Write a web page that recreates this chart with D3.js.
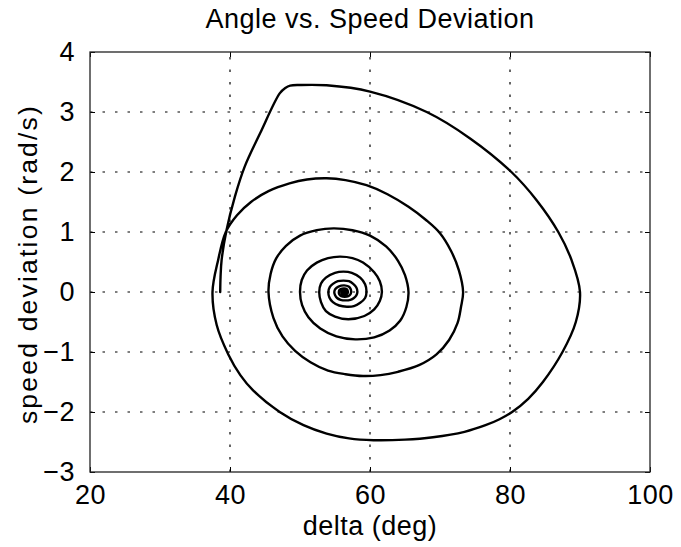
<!DOCTYPE html>
<html>
<head>
<meta charset="utf-8">
<script src="https://cdn.jsdelivr.net/npm/d3@7"></script>
<style>
  html, body { margin: 0; padding: 0; background: #fff; }
  svg { display: block; }
  text { font-family: "Liberation Sans", Arial, Helvetica, sans-serif; fill: #000; }
</style>
</head>
<body>
<svg id="chart" width="681" height="547"></svg>
<script>
// Rotor angle (deg) and speed deviation (rad/s) along the trajectory,
// from the fault instant through the damped swings to the new operating point.
const deltaDeg = [
  // fault-on acceleration
  38.6, 38.65, 38.8, 39.5, 40.7, 42.1, 44.3, 47.1, 47.9, 48.6,
  // first swing, upper half
  50.0, 53.8, 60.0, 68.1, 74.3, 80.2, 83.8, 86.9, 88.8, 90.0,
  // first swing, lower half
  89.4, 87.5, 84.7, 82.6, 80.3, 78.5, 76.5, 73.5, 69.0, 65.0, 60.5, 57.0, 53.8, 50.5, 47.1, 43.3, 41.5, 39.76, 38.1, 37.5,
  // second swing
  38.3, 39.4, 41.0, 43.0, 45.5, 48.5, 51.0, 53.8, 56.5, 59.5, 62.5, 65.5, 68.0, 70.0, 71.6, 72.7, 73.3,
  73.0, 72.5, 71.3, 69.5, 67.0, 64.0, 61.5, 59.0, 56.5, 54.0, 51.5, 49.3, 47.5, 46.2, 45.5,
  // third swing
  45.8, 46.6, 48.0, 50.0, 52.4, 54.8, 57.5, 60.0, 62.3, 64.0, 65.0, 65.5,
  65.2, 64.3, 62.8, 60.6, 57.9, 55.2, 52.9, 51.2, 50.3, 50.0,
  // fourth swing
  50.25, 51.0, 52.4, 54.0, 55.7, 57.5, 59.0, 60.6, 61.4, 61.7,
  61.4, 60.6, 59.2, 56.9, 55.0, 53.7, 53.0, 52.75,
  // fifth swing
  53.0, 53.7, 55.0, 56.2, 57.4, 58.6, 59.3, 59.5,
  59.3, 58.6, 57.7, 56.7, 55.6, 54.7, 54.2, 54.05,
  // settling
  54.25, 54.7, 55.4, 56.2, 57.0, 57.6, 58.05, 58.2,
  58.05, 57.7, 57.2, 56.5, 55.8, 55.3, 55.0, 54.9,
  55.05, 55.5, 56.3, 56.95, 57.25, 57.3,
  57.2, 56.9, 56.4, 55.9, 55.6, 55.55,
  55.65, 56.0, 56.3, 56.65, 56.85,
  56.7, 56.35, 56.0, 55.9,
  56.0, 56.3, 56.55, 56.6,
  56.5, 56.3, 56.1, 56.1, 56.3, 56.35
];
const speedDev = [
  0.0, 0.25, 0.53, 1.03, 1.59, 2.09, 2.645, 3.31, 3.40, 3.44,
  3.45, 3.445, 3.34, 3.0, 2.56, 2.0, 1.53, 1.0, 0.53, 0.0,
  -0.5, -1.0, -1.5, -1.78, -2.0, -2.12, -2.22, -2.33, -2.42, -2.46, -2.47, -2.44, -2.36, -2.22, -2.0, -1.64, -1.39, -1.04, -0.55, 0.0,
  0.53, 1.0, 1.28, 1.50, 1.68, 1.81, 1.875, 1.895, 1.865, 1.78, 1.63, 1.42, 1.20, 0.98, 0.68, 0.36, 0.0,
  -0.25, -0.52, -0.80, -1.04, -1.22, -1.33, -1.385, -1.40, -1.37, -1.31, -1.17, -0.98, -0.74, -0.43, 0.0,
  0.30, 0.56, 0.77, 0.94, 1.03, 1.06, 1.03, 0.94, 0.76, 0.52, 0.28, 0.0,
  -0.25, -0.48, -0.64, -0.755, -0.79, -0.74, -0.61, -0.42, -0.22, 0.0,
  0.20, 0.36, 0.49, 0.565, 0.59, 0.565, 0.49, 0.33, 0.18, 0.0,
  -0.15, -0.29, -0.40, -0.455, -0.41, -0.32, -0.17, 0.0,
  0.14, 0.24, 0.32, 0.34, 0.32, 0.24, 0.13, 0.0,
  -0.10, -0.18, -0.235, -0.245, -0.225, -0.17, -0.09, 0.0,
  0.08, 0.135, 0.18, 0.19, 0.18, 0.135, 0.075, 0.0,
  -0.055, -0.10, -0.13, -0.14, -0.13, -0.10, -0.05, 0.0,
  0.05, 0.09, 0.11, 0.09, 0.045, 0.0,
  -0.04, -0.07, -0.08, -0.07, -0.035, 0.0,
  0.035, 0.055, 0.06, 0.05, 0.0,
  -0.035, -0.045, -0.03, 0.0,
  0.025, 0.035, 0.02, 0.0,
  -0.02, -0.025, -0.01, 0.005, 0.01, 0.0
];

const xTicks = [20, 40, 60, 80, 100];
const yTicks = [-3, -2, -1, 0, 1, 2, 3, 4];
const xDomain = [20, 100];
const yDomain = [-3, 4];

const titleText = "Angle vs. Speed Deviation";
const xLabelText = "delta (deg)";
const yLabelText = "speed deviation (rad/s)";

// Plot frame
const plot = { left: 90, right: 650, top: 52, bottom: 472 };
const fontSize = 27;
const letterSpacing = 0.5;
const tickLen = 5;

const svg = d3.select("#chart");

const x = d3.scaleLinear().domain(xDomain).range([plot.left, plot.right]);
const y = d3.scaleLinear().domain(yDomain).range([plot.bottom, plot.top]);

// Dotted grid
const grid = svg.append("g")
  .attr("stroke", "#000")
  .attr("stroke-width", 1.2)
  .attr("stroke-dasharray", "2.5,10")
  .attr("fill", "none");

grid.selectAll("line.vgrid")
  .data(xTicks.filter(t => t > xDomain[0] && t < xDomain[1]))
  .join("line")
  .attr("class", "vgrid")
  .attr("x1", d => x(d)).attr("x2", d => x(d))
  .attr("y1", plot.bottom).attr("y2", plot.top);

grid.selectAll("line.hgrid")
  .data(yTicks.filter(t => t > yDomain[0] && t < yDomain[1]))
  .join("line")
  .attr("class", "hgrid")
  .attr("x1", plot.left).attr("x2", plot.right)
  .attr("y1", d => y(d)).attr("y2", d => y(d));

// Trajectory
const pts = deltaDeg.map((d, i) => [d, speedDev[i]]);
const line = d3.line()
  .x(d => x(d[0]))
  .y(d => y(d[1]))
  .curve(d3.curveCatmullRom.alpha(0.5));

svg.append("path")
  .datum(pts)
  .attr("d", line)
  .attr("fill", "none")
  .attr("stroke", "#000")
  .attr("stroke-width", 2.4)
  .attr("stroke-linejoin", "round")
  .attr("stroke-linecap", "round");

// Axes with inward ticks on all four sides
const axisStyle = g => {
  g.select(".domain").remove();
  g.selectAll(".tick line").attr("stroke", "#000").attr("stroke-width", 1);
  g.selectAll(".tick text")
    .attr("font-size", fontSize)
    .attr("letter-spacing", letterSpacing)
    .attr("font-family", "Liberation Sans, Arial, sans-serif")
    .attr("fill", "#000");
};

svg.append("g")
  .attr("transform", `translate(0,${plot.bottom})`)
  .call(d3.axisBottom(x).tickValues(xTicks).tickFormat(d3.format("d"))
    .tickSizeInner(-tickLen).tickSizeOuter(0).tickPadding(13))
  .call(axisStyle);

svg.append("g")
  .attr("transform", `translate(0,${plot.top})`)
  .call(d3.axisTop(x).tickValues(xTicks).tickFormat("")
    .tickSizeInner(-tickLen).tickSizeOuter(0))
  .call(axisStyle);

svg.append("g")
  .attr("transform", `translate(${plot.left},0)`)
  .call(d3.axisLeft(y).tickValues(yTicks).tickFormat(d3.format("d"))
    .tickSizeInner(-tickLen).tickSizeOuter(0).tickPadding(15))
  .call(axisStyle);

svg.append("g")
  .attr("transform", `translate(${plot.right},0)`)
  .call(d3.axisRight(y).tickValues(yTicks).tickFormat("")
    .tickSizeInner(-tickLen).tickSizeOuter(0))
  .call(axisStyle);

// Box
svg.append("rect")
  .attr("x", plot.left).attr("y", plot.top)
  .attr("width", plot.right - plot.left)
  .attr("height", plot.bottom - plot.top)
  .attr("fill", "none")
  .attr("stroke", "#222")
  .attr("stroke-width", 1.3);

// Title and axis labels
svg.append("text")
  .attr("x", (plot.left + plot.right) / 2)
  .attr("y", 28)
  .attr("text-anchor", "middle")
  .attr("font-size", fontSize)
  .attr("letter-spacing", letterSpacing)
  .text(titleText);

svg.append("text")
  .attr("x", (plot.left + plot.right) / 2)
  .attr("y", 535)
  .attr("text-anchor", "middle")
  .attr("font-size", fontSize)
  .attr("letter-spacing", letterSpacing)
  .text(xLabelText);

svg.append("text")
  .attr("transform", `translate(37,264) rotate(-90)`)
  .attr("text-anchor", "middle")
  .attr("font-size", 26.5)
  .attr("letter-spacing", 2.2)
  .text(yLabelText);
</script>
</body>
</html>
